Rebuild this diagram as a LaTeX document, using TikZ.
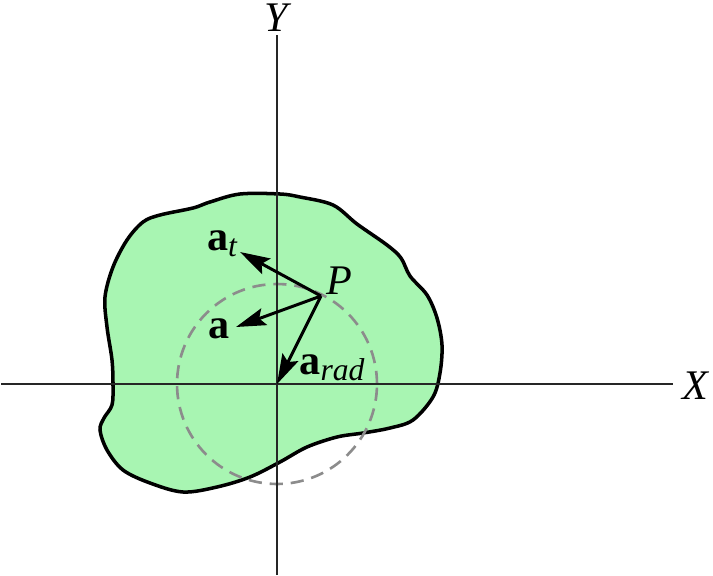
\documentclass[tikz,border=0pt]{standalone}
\usepackage{fontspec}
\setmainfont{Liberation Serif}
\usetikzlibrary{arrows.meta}
\definecolor{bodygreen}{RGB}{168,245,178}
\definecolor{circgray}{RGB}{140,140,140}
\newcommand{\vecsub}[2]{\textbf{#1}\raisebox{-0.3ex}{\fontsize{18}{20}\selectfont\itshape #2}}
\begin{document}
\begin{tikzpicture}[x=0.02cm, y=-0.02cm,
    lbl/.style={font=\fontsize{24}{28}\selectfont, inner sep=0pt},
    axis/.style={line width=1pt, color=black!85},
    vec/.style={->, >={Stealth[length=17pt, width=10pt, inset=3pt]}, line width=1.7pt}]
  \useasboundingbox (0,0) rectangle (713,575);

  \coordinate (xmin) at (1,384);
  \coordinate (xmax) at (673,384);
  \coordinate (ymin) at (277,575);
  \coordinate (ymax) at (277,35);
  \coordinate (O) at (277,384);
  \coordinate (P) at (321,296);
  \coordinate (tipt) at (240,252);
  \coordinate (tipa) at (236,327);

  % rigid body
  \filldraw[fill=bodygreen, draw=black, line width=2pt]
    plot[smooth cycle, tension=0.55] coordinates {
      (280,194) (300,197) (333,205) (357,224) (387,245) (401,258)
      (410,276) (427,295) (437,318) (442,345) (440,373) (433,397)
      (413,420) (390,428) (363,433) (337,437) (307,447) (280,462)
      (250,477) (217,487) (183,492) (150,483) (123,470) (107,450)
      (100,430) (104,418) (112,405) (113,385) (112,360) (107,327)
      (105,297) (113,267) (127,240) (143,222) (160,215) (193,208)
      (210,202) (240,194)};

  \draw[dash pattern=on 7.5pt off 4.5pt, line width=1.5pt, color=circgray]
    (O) circle[radius=2cm];

  \draw[axis] (xmin) -- (xmax);
  \draw[axis] (ymin) -- (ymax);

  \draw[vec] (P) -- (tipt);
  \draw[vec] (P) -- (tipa);
  \draw[vec] (P) -- (O);

  \path (696,386) node[lbl] (X) {\textit{X}}
    (278,18) node[lbl] (Y) {\textit{Y}}
    (339,281) node[lbl] (Plabel) {\textit{P}}
    (222,244) node[lbl] (at) {\vecsub{a}{t}}
    (219,329) node[lbl] (a) {\textbf{a}}
    (332,368) node[lbl] (arad) {\vecsub{a}{rad}};
\end{tikzpicture}
\end{document}
